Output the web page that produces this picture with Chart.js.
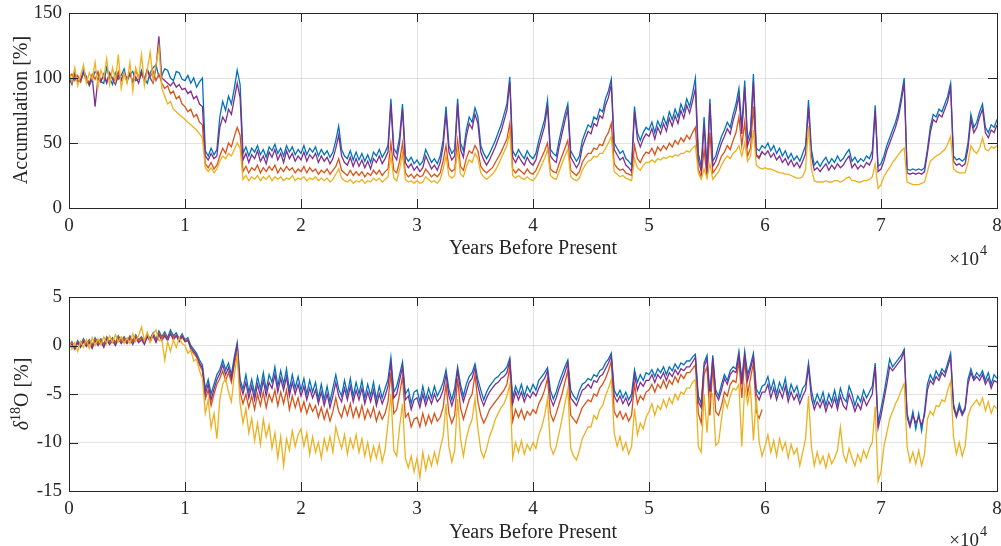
<!DOCTYPE html>
<html>
<head>
<meta charset="utf-8">
<script src="https://cdn.jsdelivr.net/npm/chart.js@4.4.0/dist/chart.umd.min.js"></script>
<style>
  html, body { margin: 0; padding: 0; background: #fff; }
  #wrap { position: relative; width: 1001px; height: 546px; }
  .panel { position: absolute; left: 0; width: 1001px; height: 273px; }
</style>
</head>
<body>
<div id="wrap">
  <div class="panel" style="top:0"><canvas id="accChart"></canvas></div>
  <div class="panel" style="top:273px"><canvas id="isoChart"></canvas></div>
</div>
<script>
// x positions: one sample every 250 years, 0 .. 80000
const STEP = 250;
const years = Array.from({ length: 321 }, (_, i) => i * STEP);

const xTicks = [0, 10000, 20000, 30000, 40000, 50000, 60000, 70000, 80000];
const accTicks = [0, 50, 100, 150];
const isoTicks = [-15, -10, -5, 0, 5];

// Accumulation [%]  (one row = 5000 years)
const accBlue = [
  100,95,104,98,97,106,101,94,99,105,103,97,96,108,100,95,104,99,102,107,
  97,103,105,98,99,106,100,96,104,108,110,101,102,107,106,100,98,105,104,99,
  98,102,96,100,93,97,100,44,40,46,41,45,70,82,75,86,80,92,106,95,
  42,47,40,46,43,48,41,45,39,47,44,49,42,46,40,48,43,47,41,45,
  42,48,41,46,43,47,40,45,41,44,39,43,52,63,45,40,38,44,37,43,
  37,42,36,41,35,43,40,45,39,43,48,84,46,42,55,80,40,36,39,34,
  37,33,36,45,40,35,38,34,40,52,78,48,42,45,84,50,44,60,70,66,
  77,70,48,42,38,42,47,52,58,64,72,80,101,44,40,45,41,38,44,40,
  38,42,52,60,68,83,45,42,40,52,62,72,80,44,40,36,40,52,58,64,
  62,70,68,76,74,84,90,99,50,46,42,44,38,36,33,78,58,52,58,62,
  60,66,58,67,62,70,64,74,68,76,70,80,74,84,78,88,100,42,32,70,
  30,84,36,40,48,55,60,66,62,72,80,92,62,98,52,60,103,46,44,48,
  46,50,44,48,42,46,40,44,38,42,37,40,36,42,48,83,45,33,36,32,
  36,39,34,38,35,40,36,38,42,45,36,39,35,38,36,40,38,44,79,32,
  34,40,48,54,60,66,74,86,100,30,29,30,29,30,29,31,45,62,72,70,
  76,74,80,86,96,40,37,38,36,38,50,72,62,66,74,80,62,58,64,62,
  68];

const accPurple = [
  100,96,103,97,99,104,98,95,101,78,100,97,103,96,104,99,95,102,98,104,
  99,103,97,101,96,104,98,106,100,96,108,132,100,98,96,94,97,93,95,91,
  92,88,90,84,86,80,78,40,37,42,38,40,62,70,66,76,72,84,96,85,
  37,42,35,41,38,44,36,40,34,43,39,45,37,42,35,44,38,42,36,40,
  37,43,36,41,38,42,35,40,36,39,34,38,46,56,40,35,33,39,32,38,
  32,37,31,36,30,38,35,40,34,38,43,80,41,37,50,76,35,31,34,29,
  32,28,31,40,35,30,33,29,35,47,73,43,37,40,80,45,39,55,65,61,
  72,65,43,37,33,37,42,47,53,59,67,75,97,39,35,40,36,33,39,35,
  33,37,47,55,63,79,40,37,35,47,57,67,76,39,35,31,35,47,53,59,
  57,65,63,71,69,79,85,95,45,41,37,39,33,31,28,74,53,47,53,57,
  55,61,53,62,57,65,59,69,63,71,65,75,69,79,73,82,92,37,28,64,
  27,80,32,36,43,50,55,61,57,67,75,86,57,93,48,55,97,41,39,43,
  41,44,39,42,37,40,35,38,33,37,32,35,31,36,42,78,40,29,31,28,
  31,34,29,33,30,34,31,33,37,40,31,34,30,33,31,35,33,38,75,28,
  30,36,44,50,56,62,70,82,96,27,26,27,26,27,26,28,42,58,68,66,
  72,70,76,82,93,36,33,34,32,34,46,68,58,62,70,76,58,54,60,58,
  64];

// orange record stops near 60 ka
const accOrange = [
  100,103,98,102,97,104,100,96,103,99,105,98,102,97,104,100,98,105,99,103,
  98,104,97,106,100,103,99,107,101,105,98,103,96,92,94,88,90,84,86,80,
  78,74,76,70,72,66,64,34,31,35,30,33,40,46,42,50,47,55,62,56,
  28,32,27,31,29,33,27,31,28,32,29,33,27,31,28,32,29,31,27,30,
  28,32,27,31,28,30,26,29,27,30,26,29,32,38,29,27,25,29,25,28,
  25,28,24,27,25,29,26,29,25,28,30,50,29,27,36,50,27,24,26,23,
  26,24,25,30,27,24,26,24,27,36,48,31,28,30,52,32,29,38,44,42,
  48,44,32,29,27,29,31,35,39,43,48,53,65,30,27,30,28,26,30,27,
  26,29,34,39,44,50,30,28,27,34,40,46,52,29,27,25,28,35,39,42,
  42,46,45,49,48,54,58,65,34,31,29,30,27,26,25,48,38,35,40,43,
  42,46,41,47,44,48,45,50,47,52,49,54,51,56,53,58,62,30,24,45,
  23,58,27,30,34,40,43,48,45,52,58,70,48,66,40,46,78,40,38,44];

const accYellow = [
  105,97,108,94,102,110,96,104,99,112,93,106,100,115,95,108,98,118,92,104,
  96,112,90,108,100,118,94,106,120,98,110,124,92,86,80,82,76,74,72,70,
  68,66,64,62,60,57,54,31,28,31,27,30,36,40,38,42,40,45,50,46,
  22,25,21,24,22,25,21,24,22,25,21,24,22,24,21,23,22,25,21,23,
  22,24,21,23,22,24,21,23,21,23,20,22,26,30,23,21,20,22,19,21,
  20,22,19,21,20,23,21,23,20,22,24,40,23,21,30,42,22,20,21,19,
  21,19,20,24,22,20,21,19,22,30,40,25,23,25,45,26,24,32,37,35,
  42,38,27,24,22,24,26,29,33,38,43,48,58,25,23,25,23,22,24,22,
  21,24,28,33,38,45,25,23,22,28,34,40,45,24,22,21,23,29,33,36,
  37,40,39,42,42,46,50,55,28,26,24,25,23,22,21,38,31,29,33,35,
  35,37,35,38,37,39,38,40,39,41,40,42,42,44,43,46,48,27,22,30,
  23,34,22,25,28,33,37,40,38,42,44,48,40,50,36,40,60,33,31,30,
  31,30,30,29,28,27,27,26,26,25,24,23,23,24,30,63,30,21,20,20,
  20,21,20,20,21,21,20,21,23,24,21,21,20,20,21,21,22,24,34,15,
  18,24,28,31,35,38,41,44,46,20,19,18,18,18,19,20,28,36,38,40,
  41,43,45,49,55,30,28,27,27,27,35,48,44,42,46,54,45,44,47,46,
  48];

// delta 18O [%]
const isoBlue = [
  0,0.4,-0.2,0.5,0.1,0.7,0.2,0.6,0,0.8,0.3,0.7,0.1,0.9,0.4,0.8,0.3,1.0,0.5,0.9,
  0.4,1.0,0.5,1.1,0.6,0.9,0.4,1.2,0.7,1.3,0.6,1.5,0.9,1.4,0.8,1.6,1.0,1.3,0.7,1.2,
  0.6,0.8,0,-0.4,-0.8,-1.5,-2,-4.5,-3.5,-5,-4,-3,-2.5,-1.5,-2.5,-1.8,-3,-1.2,0.3,-3.5,
  -4.5,-3,-4.8,-3.5,-5,-3.2,-4.5,-2.8,-4.6,-3,-3.8,-2.2,-4.2,-2.6,-4,-2.4,-4.6,-3,-4.4,-3.2,
  -4.6,-3.4,-5,-3.6,-4.8,-3.8,-5.5,-4,-5.6,-4.2,-5.8,-4.4,-3,-4.5,-5.2,-3.6,-5,-3.4,-5.2,-3.8,
  -5,-3.6,-5.4,-4,-5.2,-3.8,-5.6,-4.2,-5.4,-4.4,-3.5,-1.2,-4.8,-4.2,-3,-1.7,-5,-4.5,-6,-4.8,
  -4.6,-5.8,-4.2,-5.6,-4.4,-5.4,-4.2,-5.2,-4.6,-3.8,-2.5,-4.5,-5.6,-4.4,-2.2,-4,-5.2,-4,-3.2,-2.8,
  -1.9,-3.5,-4.6,-5.6,-4.8,-4.2,-3.8,-3.4,-3.2,-2.8,-2.6,-2.2,-1.3,-5.4,-4.2,-5,-4,-5.2,-4.2,-4.8,
  -4,-4.6,-3.6,-3.2,-2.8,-2.3,-4.6,-5.5,-4.8,-3.8,-3,-2.2,-1.5,-4.6,-5.2,-5.6,-4.6,-4,-3.8,-3.4,
  -3.6,-3,-3.2,-2.6,-2.4,-1.8,-1.4,-0.8,-4.6,-5.2,-4.6,-5.4,-4.8,-5.6,-5,-2.5,-3.8,-3,-3.6,-2.8,
  -3,-2.5,-3.2,-2.4,-2.8,-2.2,-3,-2.2,-2.6,-1.9,-2.4,-1.8,-2,-1.6,-1.6,-1.2,-0.9,-5.2,-6,-1.8,
  -1,-5,-1,-4.6,-5.2,-4,-3,-3.6,-2.6,-2.2,-2.4,-0.6,-3.5,-0.6,-3,-2,-0.8,-4.5,-5,-4.2,
  -4,-3.2,-4.6,-3.6,-5,-3.8,-4.6,-3.4,-5.2,-4,-4.8,-4.2,-5.4,-4.4,-4,-1.8,-4.6,-6,-5,-5.8,
  -4.8,-6.2,-5,-5.8,-4.6,-6,-4.4,-5.4,-5.8,-4.2,-5,-6.2,-5.2,-5.8,-4.6,-5.4,-4.8,-4.2,-1.8,-8,
  -6.5,-5,-3.2,-1.4,-2.2,-1.8,-1.4,-1,-0.4,-7,-8.2,-6.8,-8.6,-7,-8.8,-6.8,-4,-3,-3.6,-2.6,
  -3.2,-2.4,-2.8,-1.8,-0.8,-6,-7.2,-6,-7,-6.4,-3.5,-2.4,-3.4,-2.8,-3.2,-2.6,-3.6,-2.8,-4,-3,
  -3.4];

const isoPurple = [
  0,0.1,-0.4,0.3,-0.2,0.4,-0.1,0.3,-0.3,0.5,0,0.4,-0.2,0.6,0.1,0.5,0,0.7,0.2,0.6,
  0.2,0.7,0.1,0.8,0.3,0.6,0.1,0.9,0.4,1.0,0.3,1.1,0.5,1.0,0.5,1.2,0.6,1.0,0.4,0.9,
  0.4,0.5,-0.2,-0.6,-1,-1.8,-2.3,-5,-4,-5.6,-4.5,-3.5,-2.9,-2,-3,-2.3,-3.4,-1.6,0,-4,
  -5,-3.8,-5.4,-4.2,-5.6,-4,-5.2,-3.6,-5.2,-3.8,-4.4,-3,-4.8,-3.4,-4.6,-3.2,-5.2,-3.8,-5,-4,
  -5.2,-4.2,-5.6,-4.4,-5.4,-4.6,-6,-4.8,-6.2,-5,-6.4,-5.2,-3.8,-5.2,-5.8,-4.4,-5.6,-4.2,-5.8,-4.6,
  -5.6,-4.4,-6,-4.8,-5.8,-4.6,-6.2,-5,-6,-5.2,-4.2,-1.8,-5.4,-5,-3.6,-2.2,-5.6,-5.2,-6.6,-5.6,
  -5.4,-6.4,-5,-6.2,-5.2,-6,-5,-5.8,-5.4,-4.6,-3,-5.2,-6.2,-5.2,-2.6,-4.6,-5.8,-4.8,-3.8,-3.4,
  -2.3,-4.2,-5.4,-6.2,-5.4,-4.8,-4.4,-4,-3.8,-3.4,-3.2,-2.8,-1.6,-6,-4.8,-5.6,-4.8,-5.8,-5,-5.4,
  -4.8,-5.2,-4.4,-3.8,-3.4,-2.6,-5.4,-6.2,-5.4,-4.4,-3.6,-2.8,-1.8,-5.4,-5.8,-6.2,-5.4,-4.6,-4.4,-4,
  -4.4,-3.6,-3.8,-3.2,-3,-2.4,-1.8,-1.1,-5.2,-5.8,-5.2,-6,-5.4,-6.2,-5.6,-3,-4.6,-3.8,-4.2,-3.6,
  -3.6,-3,-3.8,-3,-3.4,-2.8,-3.6,-2.8,-3.2,-2.5,-3,-2.4,-2.6,-2.2,-2.2,-1.7,-1.2,-5.8,-6.4,-2.2,
  -1.4,-5.4,-1.3,-5,-5.6,-4.6,-3.4,-4,-3,-2.6,-2.8,-1,-4,-1,-3.6,-2.4,-1.2,-5,-5.6,-4.8,
  -4.8,-4,-5.4,-4.4,-5.6,-4.6,-5.4,-4.2,-5.8,-4.8,-5.6,-5,-6,-5.2,-4.6,-2.2,-5.4,-6.6,-5.8,-6.4,
  -5.6,-6.8,-5.8,-6.4,-5.4,-6.6,-5.2,-6.2,-6.6,-5,-5.8,-6.8,-6,-6.6,-5.4,-6.2,-5.6,-5,-2.2,-8.5,
  -7.2,-5.6,-4,-2.2,-2.6,-2.2,-1.8,-1.4,-0.6,-7.4,-8.4,-7.2,-8,-7.4,-8.2,-7.2,-4.6,-3.6,-4,-3.2,
  -3.6,-2.8,-3.2,-2.2,-1.2,-6.4,-7.4,-6.4,-7.2,-6.6,-4,-2.8,-3.6,-3.2,-3.6,-3,-4,-3.4,-4.4,-3.6,
  -3.8];

const isoOrange = [
  0,0.3,-0.3,0.4,-0.1,0.6,0,0.5,-0.2,0.7,0.2,0.6,0,0.8,0.3,0.7,0.2,0.9,0.4,0.8,
  0.3,0.9,0.4,1.0,0.5,0.8,0.3,1.1,0.6,1.2,0.5,1.3,0.8,1.2,0.6,1.3,0.8,1.1,0.5,1.0,
  0.5,0.6,-0.4,-0.8,-1.2,-2,-2.6,-5.5,-4.6,-6.2,-5,-4,-3.4,-2.6,-3.6,-2.8,-3.8,-2,-0.5,-4.8,
  -6,-5,-6.4,-5.2,-6.6,-5,-6.2,-4.8,-6.4,-5,-5.8,-4.6,-6.2,-4.8,-6,-4.6,-6.6,-5.2,-6.4,-5.4,
  -6.8,-5.8,-7,-6,-6.8,-6.2,-7.4,-6.4,-7.6,-6.6,-7.8,-6.8,-5.4,-6.8,-7.4,-6.2,-7.2,-6,-7.4,-6.4,
  -7.4,-6.2,-7.6,-6.6,-7.4,-6.4,-7.8,-6.8,-7.6,-7,-5.8,-2.8,-7,-6.6,-5,-3.2,-7.4,-7,-8.4,-7.6,
  -7.4,-8.4,-7,-8.2,-7.2,-8,-7,-7.8,-7.4,-6.4,-4,-7,-8,-7.2,-3.4,-6.4,-7.6,-6.6,-5.6,-5,
  -3,-5.8,-7.2,-8,-7.4,-6.6,-6.2,-5.8,-5.4,-5,-4.6,-4,-2.2,-7.8,-6.6,-7.4,-6.6,-7.6,-6.8,-7.2,
  -6.6,-7,-6,-5.4,-4.6,-3.4,-7,-7.8,-7,-6,-5,-3.8,-2.6,-7.2,-7.6,-8,-7.2,-6.4,-6,-5.6,
  -5.8,-5,-5.2,-4.4,-4,-3.4,-2.6,-1.6,-6.8,-7.4,-6.8,-7.6,-7,-7.8,-7.2,-4,-6,-5.2,-5.6,-4.8,
  -4.6,-4,-4.8,-4,-4.4,-3.6,-4.4,-3.6,-4,-3.2,-3.8,-3,-3.4,-2.8,-2.8,-2.4,-2,-7,-8,-3,
  -2.2,-7.2,-2,-6.8,-7.2,-6.2,-4.8,-5.2,-4,-3.6,-3.8,-1.6,-5.4,-1.5,-5,-3.4,-1.8,-6.8,-7.5,-6.6];

const isoYellow = [
  0.5,-0.4,0.3,-0.6,0.4,-0.2,0.6,-0.3,0.8,0,0.7,0.1,0.9,0.2,1.0,0.3,1.1,0.4,0.9,0.2,
  0.8,0.2,1.2,0.4,1.0,1.9,0.5,1.4,0.3,1.2,1.6,0.5,0.6,-1.5,0.4,-0.6,0.6,-0.2,0.8,0.2,
  0,-0.8,-0.5,-1.6,-1.4,-2.6,-3.4,-7,-5.6,-8.5,-7,-9.6,-5.6,-4,-3.4,-4.8,-5.8,-3,-1,-6,
  -8,-6.5,-9,-7.5,-9.8,-8,-10.2,-7.6,-9.4,-8.2,-10.6,-9,-11.6,-9.4,-12.4,-9.6,-10.8,-8.8,-10.4,-9.2,
  -8.6,-10.4,-9,-11.2,-9.4,-11,-10,-11.6,-9.6,-10.8,-9.4,-11,-8.4,-9.6,-10.6,-9.2,-11.2,-9.6,-10.6,-9.2,
  -11,-9.6,-11.4,-10,-11.8,-10.4,-11.6,-10.2,-12,-10.8,-8,-5,-10.8,-11.4,-8.4,-6,-11.6,-12.6,-11.4,-13,
  -11.6,-13.6,-11,-12.8,-11.4,-12.4,-11,-12.2,-10.6,-9.4,-6,-10.4,-12,-10.8,-5.5,-9.6,-11.4,-9.6,-8.4,-7.6,
  -5.5,-8.6,-10.8,-11.6,-10.6,-9.4,-8.6,-7.6,-7,-6.4,-6,-5.2,-4,-11.6,-10,-11,-9.8,-11.2,-10.2,-10.8,
  -10,-10.6,-9.2,-8.4,-7.2,-5.5,-10.4,-11.2,-10.4,-9,-7.6,-6,-4.5,-10.6,-11.4,-11.8,-10.8,-9.6,-9,-8.4,
  -8.4,-7.2,-7.6,-6.6,-6.2,-5.2,-4.4,-3.5,-9,-10.4,-9.4,-10.8,-10,-11.2,-10.4,-6.5,-9.2,-8,-8.6,-7.4,
  -6.8,-6,-7.2,-6.2,-6.6,-5.6,-6.4,-5.4,-6,-5,-5.6,-4.8,-5,-4.4,-4.4,-3.8,-3.5,-10.4,-11,-5,
  -9,-4.8,-5,-10.3,-10,-7.6,-5.5,-6.4,-5.2,-4.4,-4.6,-4,-10.4,-4.2,-6,-4.4,-9.8,-5.2,-10,-11.4,
  -10.4,-9.2,-11,-9.8,-11.4,-9.6,-10.8,-10,-11.6,-10.2,-11.2,-10.6,-12.4,-11,-9.6,-5.2,-10.4,-12.4,-11,-12.2,
  -11.4,-12.6,-11.2,-12.2,-11.6,-10.8,-8.4,-11.2,-12,-10.6,-11.6,-12.4,-11.2,-12,-10.8,-11.6,-10.6,-10,-6.3,-14,
  -13,-10.4,-9,-7.6,-6.8,-6,-5.4,-4.6,-3.9,-10.4,-12,-11,-12.2,-10.8,-12.4,-11.2,-7.6,-6.8,-7.2,-6.2,
  -6.3,-5.6,-5.8,-4.6,-3.7,-9.4,-11.2,-10,-11.4,-10.4,-7.3,-6.4,-6,-5.6,-6.2,-5.4,-6.7,-5.8,-7,-6.2,
  -6.5];

const BLUE = "#0072BD";
const ORANGE = "#D95319";
const YELLOW = "#EDB120";
const PURPLE = "#7E2F8E";
const AXIS = "#262626";
const FONT = "'Liberation Serif', 'Times New Roman', serif";

Chart.defaults.font.family = FONT;
Chart.defaults.font.size = 19;
Chart.defaults.color = AXIS;

function points(vals) {
  const out = [];
  for (let i = 0; i < vals.length; i++) out.push({ x: years[i], y: vals[i] });
  return out;
}

function line(vals, color) {
  return {
    data: points(vals),
    borderColor: color,
    borderWidth: 1.3,
    pointRadius: 0,
    tension: 0,
    fill: false
  };
}

// box + inward tick marks on all four sides, drawn over the data
const frame = {
  id: "frame",
  afterDatasetsDraw(chart) {
    const { ctx, chartArea: a, scales } = chart;
    const L = 9;
    ctx.save();
    ctx.strokeStyle = AXIS;
    ctx.lineWidth = 1;
    ctx.beginPath();
    for (const t of scales.x.ticks) {
      const px = Math.round(scales.x.getPixelForValue(t.value)) + 0.5;
      ctx.moveTo(px, a.bottom); ctx.lineTo(px, a.bottom - L);
      ctx.moveTo(px, a.top); ctx.lineTo(px, a.top + L);
    }
    for (const t of scales.y.ticks) {
      const py = Math.round(scales.y.getPixelForValue(t.value)) + 0.5;
      ctx.moveTo(a.left, py); ctx.lineTo(a.left + L, py);
      ctx.moveTo(a.right, py); ctx.lineTo(a.right - L, py);
    }
    ctx.stroke();
    ctx.strokeRect(Math.round(a.left) + 0.5, Math.round(a.top) + 0.5,
      Math.round(a.right - a.left), Math.round(a.bottom - a.top));
    ctx.restore();
  }
};

function exponentLabel(ctx, xRight, y) {
  ctx.save();
  ctx.font = "19px " + FONT;
  ctx.textAlign = "right";
  ctx.textBaseline = "middle";
  ctx.fillText("\u00d710", xRight, y);
  ctx.font = "14px " + FONT;
  ctx.textAlign = "left";
  ctx.fillText("4", xRight + 1, y - 9);
  ctx.restore();
}

function labels(draw) {
  return {
    id: "labels",
    afterDraw(chart) {
      const ctx = chart.ctx;
      ctx.save();
      ctx.fillStyle = AXIS;
      draw(ctx, chart);
      ctx.restore();
    }
  };
}

const accLabels = labels(ctx => {
  ctx.font = "20px " + FONT;
  ctx.textAlign = "center";
  ctx.textBaseline = "middle";
  ctx.fillText("Years Before Present", 533, 249);
  exponentLabel(ctx, 979, 260);
  ctx.translate(22, 110);
  ctx.rotate(-Math.PI / 2);
  ctx.fillText("Accumulation [%]", 0, 0);
});

const isoLabels = labels(ctx => {
  ctx.font = "20px " + FONT;
  ctx.textAlign = "center";
  ctx.textBaseline = "middle";
  ctx.fillText("Years Before Present", 533, 260);
  exponentLabel(ctx, 979, 268);
  // delta^18 O [%], rotated
  ctx.translate(23, 121);
  ctx.rotate(-Math.PI / 2);
  ctx.textAlign = "left";
  const parts = [
    { t: "\u03b4", f: "italic 20px " + FONT, dy: 0 },
    { t: "18", f: "14px " + FONT, dy: -7 },
    { t: "O [%]", f: "20px " + FONT, dy: 0 }
  ];
  let total = 0;
  for (const p of parts) { ctx.font = p.f; p.w = ctx.measureText(p.t).width; total += p.w; }
  let x = -total / 2;
  for (const p of parts) { ctx.font = p.f; ctx.fillText(p.t, x, p.dy); x += p.w; }
});

function makeChart(id, datasets, yMin, yMax, yTickVals, padTop, xHeight, extra) {
  return new Chart(document.getElementById(id), {
    type: "line",
    data: { datasets },
    options: {
      responsive: true,
      maintainAspectRatio: false,
      animation: false,
      events: [],
      layout: { padding: { top: padTop, right: 4, left: 0, bottom: 0 } },
      plugins: { legend: { display: false }, tooltip: { enabled: false } },
      scales: {
        x: {
          type: "linear",
          min: 0,
          max: 80000,
          afterBuildTicks: s => { s.ticks = xTicks.map(v => ({ value: v })); },
          afterFit: s => { s.height = xHeight; s.paddingLeft = 0; s.paddingRight = 0; },
          ticks: { padding: 7, maxRotation: 0, callback: v => String(v / 10000) },
          grid: { color: "rgba(38,38,38,0.13)", drawTicks: false },
          border: { display: false }
        },
        y: {
          min: yMin,
          max: yMax,
          afterBuildTicks: s => { s.ticks = yTickVals.map(v => ({ value: v })); },
          afterFit: s => { s.width = 69; s.paddingTop = 0; s.paddingBottom = 0; },
          ticks: { padding: 7, callback: v => String(v) },
          grid: { color: "rgba(38,38,38,0.13)", drawTicks: false },
          border: { display: false }
        }
      }
    },
    plugins: [frame, extra]
  });
}

function init() {
  // first dataset is drawn on top
  makeChart("accChart", [
    line(accYellow, YELLOW),
    line(accPurple, PURPLE),
    line(accOrange, ORANGE),
    line(accBlue, BLUE)
  ], 0, 150, accTicks, 13, 65, accLabels);

  makeChart("isoChart", [
    line(isoYellow, YELLOW),
    line(isoPurple, PURPLE),
    line(isoOrange, ORANGE),
    line(isoBlue, BLUE)
  ], -15, 5, isoTicks, 24, 55, isoLabels);
}

window.addEventListener("DOMContentLoaded", init);
</script>
</body>
</html>
